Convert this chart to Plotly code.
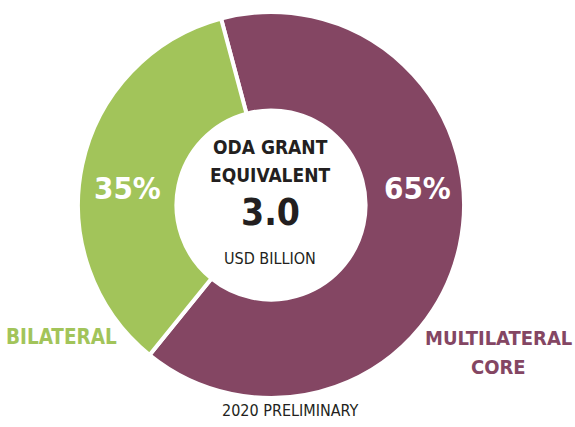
import plotly.graph_objects as go

labels = ["MULTILATERAL CORE", "BILATERAL"]
values = [65, 35]
colors = ["#844663", "#a2c45a"]
total_usd_billion = 3.0

W, H = 575, 427
FONT = "DejaVu Sans Condensed, DejaVu Sans, sans-serif"

fig = go.Figure(go.Pie(
    labels=labels, values=values, hole=0.49, sort=False, direction="clockwise",
    rotation=-15,
    marker=dict(colors=colors, line=dict(color="white", width=4)),
    textinfo="none",
    domain=dict(x=[(271-193)/W, (271+193)/W], y=[1-398/H, 1-12/H]),
    showlegend=False, hoverinfo="label+percent",
))

cx = 270/W
tot = sum(values)
ann = [
    dict(x=cx, y=1-147/H, text="<b>ODA GRANT</b>", font=dict(size=19, color="#231f20")),
    dict(x=cx, y=1-175/H, text="<b>EQUIVALENT</b>", font=dict(size=19, color="#231f20")),
    dict(x=cx, y=1-212/H, text=f"<b>{total_usd_billion:.1f}</b>", font=dict(size=37, color="#231f20")),
    dict(x=cx, y=1-258/H, text="USD BILLION", font=dict(size=16, color="#231f20")),
    dict(x=127/W, y=1-188/H, text=f"<b>{round(100*values[1]/tot)}%</b>", font=dict(size=31, color="white")),
    dict(x=417/W, y=1-188/H, text=f"<b>{round(100*values[0]/tot)}%</b>", font=dict(size=31, color="white")),
    dict(x=61/W, y=1-337/H, text="<b>BILATERAL</b>", font=dict(size=20.5, color=colors[1])),
    dict(x=498/W, y=1-338/H, text="<b>MULTILATERAL</b>", font=dict(size=20, color=colors[0])),
    dict(x=498/W, y=1-367/H, text="<b>CORE</b>", font=dict(size=20, color=colors[0])),
    dict(x=290/W, y=1-410/H, text="2020 PRELIMINARY", font=dict(size=16, color="#231f20")),
]
for a in ann:
    a.update(xref="paper", yref="paper", showarrow=False, xanchor="center", yanchor="middle")
    a["font"]["family"] = FONT

fig.update_layout(width=W, height=H, margin=dict(l=0, r=0, t=0, b=0),
                  paper_bgcolor="white", plot_bgcolor="white", annotations=ann)
fig.write_html("out.html", config={"displayModeBar": False},
               post_script="document.body.style.margin='0';document.body.style.overflow='hidden';")
